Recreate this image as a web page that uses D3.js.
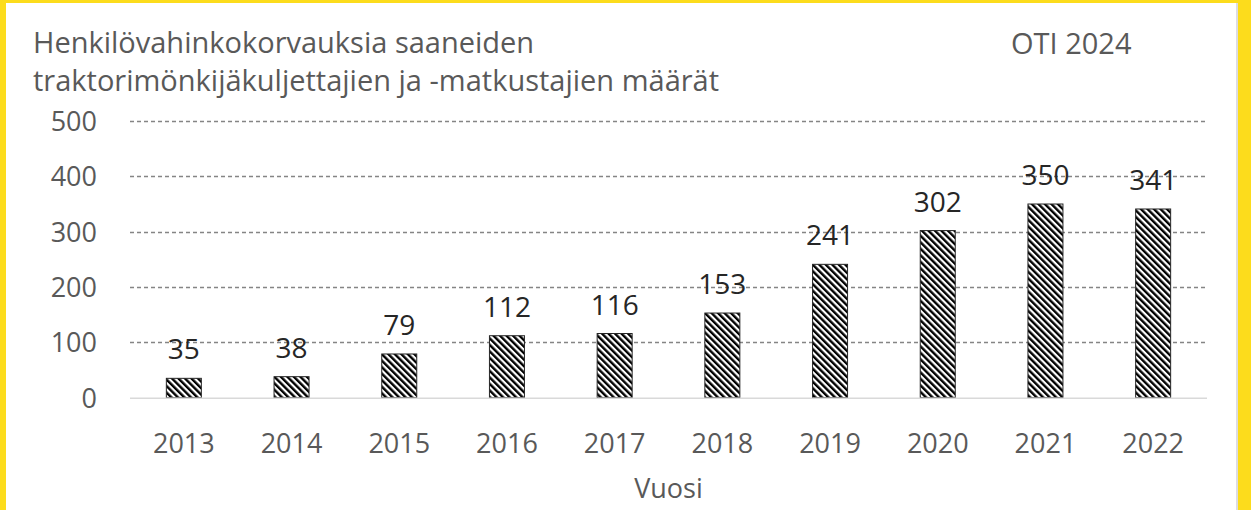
<!DOCTYPE html>
<html>
<head>
<meta charset="utf-8">
<script src="https://cdnjs.cloudflare.com/ajax/libs/d3/7.8.5/d3.min.js"></script>
<style>
  body { margin: 0; background: #fff; }
  svg text { font-family: "Open Sans", "Noto Sans", sans-serif; }
</style>
</head>
<body>
<svg width="1251" height="510"></svg>
<script>
var years = ["2013", "2014", "2015", "2016", "2017", "2018", "2019", "2020", "2021", "2022"];
var counts = [35, 38, 79, 112, 116, 153, 241, 302, 350, 341];
var yTicks = [0, 100, 200, 300, 400, 500];
var titleLines = ["Henkilövahinkokorvauksia saaneiden", "traktorimönkijäkuljettajien ja -matkustajien määrät"];
var sourceText = "OTI 2024";
var xTitle = "Vuosi";

var data = years.map(function (y, i) { return { year: y, value: counts[i] }; });

var svg = d3.select("svg"),
  width = +svg.attr("width"),
  height = +svg.attr("height");
var margin = { top: 121, right: 44, bottom: 112, left: 130 };

// yellow frame
svg.append("rect").attr("x", 0).attr("y", 0).attr("width", width).attr("height", height).attr("fill", "#fcdc1c");
svg.append("rect").attr("x", 6).attr("y", 3).attr("width", 1231).attr("height", height - 3).attr("fill", "#fff");
svg.append("rect").attr("x", 1236).attr("y", 3).attr("width", 2).attr("height", height - 3).attr("fill", "#dcdce2");

// hatch pattern
var defs = svg.append("defs");
var pat = defs.append("pattern")
  .attr("id", "hatch")
  .attr("patternUnits", "userSpaceOnUse")
  .attr("width", 4.6)
  .attr("height", 4.6)
  .attr("patternTransform", "rotate(-45)");
pat.append("rect").attr("width", 4.6).attr("height", 4.6).attr("fill", "#fff");
pat.append("rect").attr("x", 0).attr("y", 0).attr("width", 2.4).attr("height", 4.6).attr("fill", "#000");

var x = d3.scaleBand()
  .domain(years)
  .range([margin.left, width - margin.right - 0])
  .paddingInner(0.675)
  .paddingOuter(0.3375);

var y = d3.scaleLinear()
  .domain([0, 500])
  .range([height - margin.bottom - 0.3, margin.top]);

// gridlines
svg.append("g")
  .selectAll("line")
  .data(yTicks.filter(function (d) { return d > 0; }))
  .enter().append("line")
  .attr("x1", margin.left)
  .attr("x2", width - margin.right)
  .attr("y1", function (d) { return Math.round(y(d)) + 0.5; })
  .attr("y2", function (d) { return Math.round(y(d)) + 0.5; })
  .attr("stroke", "#858585")
  .attr("stroke-width", 1.3)
  .attr("stroke-dasharray", "4,3");

// y axis labels
var yAxis = svg.append("g")
  .attr("transform", "translate(" + (margin.left - 33) + ",0)")
  .call(d3.axisLeft(y).tickValues(yTicks).tickSize(0).tickPadding(0));
yAxis.select(".domain").remove();
yAxis.selectAll("text")
  .attr("fill", "#595959")
  .attr("font-size", "27px")
  .attr("dy", "0.35em");

// bars
svg.append("g")
  .selectAll("rect")
  .data(data)
  .enter().append("rect")
  .attr("x", function (d) { return x(d.year); })
  .attr("y", function (d) { return y(d.value); })
  .attr("width", x.bandwidth())
  .attr("height", function (d) { return y(0) - y(d.value); })
  .attr("fill", "url(#hatch)")
  .attr("stroke", "#262626")
  .attr("stroke-width", 1);

// baseline
svg.append("line")
  .attr("x1", margin.left)
  .attr("x2", width - margin.right)
  .attr("y1", y(0) + 0.5)
  .attr("y2", y(0) + 0.5)
  .attr("stroke", "#d9d9d9")
  .attr("stroke-width", 1.5);

// value labels
svg.append("g")
  .selectAll("text")
  .data(data)
  .enter().append("text")
  .attr("x", function (d) { return x(d.year) + x.bandwidth() / 2; })
  .attr("y", function (d) { return y(d.value) - 19; })
  .attr("text-anchor", "middle")
  .attr("font-size", "28px")
  .attr("fill", "#262626")
  .text(function (d) { return d.value; });

// x axis labels
var xAxis = svg.append("g")
  .attr("transform", "translate(0," + y(0) + ")")
  .call(d3.axisBottom(x).tickSize(0).tickPadding(0));
xAxis.select(".domain").remove();
xAxis.selectAll("text")
  .attr("fill", "#595959")
  .attr("font-size", "27px")
  .attr("dy", null)
  .attr("y", 55);

// axis title
svg.append("text")
  .attr("x", (margin.left + width - margin.right) / 2)
  .attr("y", 498)
  .attr("text-anchor", "middle")
  .attr("font-size", "27px")
  .attr("fill", "#595959")
  .text(xTitle);

// chart title
svg.append("g")
  .selectAll("text")
  .data(titleLines)
  .enter().append("text")
  .attr("x", 33)
  .attr("y", function (d, i) { return 53 + i * 38; })
  .attr("font-size", "29px")
  .attr("fill", "#595959")
  .text(function (d) { return d; });

svg.append("text")
  .attr("x", 1011)
  .attr("y", 54)
  .attr("font-size", "29px")
  .attr("fill", "#595959")
  .text(sourceText);
</script>
</body>
</html>
